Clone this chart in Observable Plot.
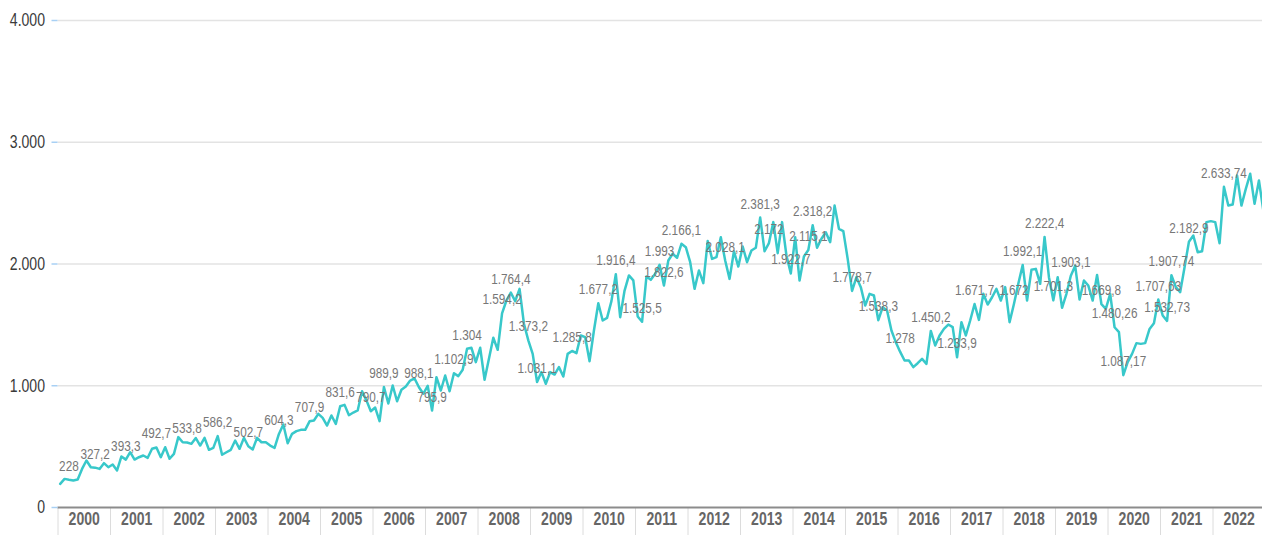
<!DOCTYPE html>
<html>
<head>
<meta charset="utf-8">
<script src="https://cdn.jsdelivr.net/npm/d3@7"></script>
<script src="https://cdn.jsdelivr.net/npm/@observablehq/plot@0.6"></script>
<style>
  html, body { margin: 0; padding: 0; background: #fff; overflow: hidden; }
</style>
</head>
<body>
<div id="chart"></div>
<script>
// Monthly values, January 2000 .. December 2022
const startYear = 2000;
const values = [
  194, 235, 228, 222, 230, 317, 386, 331, 327.2, 317, 364, 331,            // 2000
  353, 304, 419, 393.3, 454, 394, 413, 427, 408, 482, 492.7, 413,          // 2001
  495, 400, 441, 578, 536, 533.8, 523, 570, 509, 572, 474, 490,            // 2002
  586.2, 433, 454, 474, 550, 482, 572, 502.7, 476, 572, 536, 536,          // 2003
  509, 490, 604.3, 682, 528, 605, 627, 638, 638, 707.9, 715, 769,          // 2004
  736, 673, 756, 687, 831.6, 843, 758, 780, 797, 955, 880, 790.7,          // 2005
  821, 709, 989.9, 854, 1002, 873, 967, 994, 1043, 1060, 988.1, 934,       // 2006
  1000, 795.9, 1070, 961, 1084, 955, 1102.9, 1079, 1131, 1304, 1312, 1194, // 2007
  1312, 1049, 1221, 1394, 1295, 1594.2, 1700, 1764.4, 1695, 1796, 1509, 1373.2, // 2008
  1262, 1031.1, 1112, 1016, 1112, 1092, 1153, 1076, 1262, 1285.8, 1268, 1413,   // 2009
  1399, 1202, 1454, 1677.2, 1536, 1558, 1695, 1916.4, 1563, 1782, 1906, 1865,   // 2010
  1569, 1525.5, 1897, 1870, 1919, 1993, 1822.6, 2029, 2084, 2051, 2166.1, 2138, // 2011
  2015, 1796, 1947, 1843, 2188, 2042, 2056, 2220, 2028.1, 1878, 2105, 1979,     // 2012
  2144, 2015, 2111, 2133, 2381.3, 2105, 2172, 2344, 2089, 2344, 2070, 1922.7,   // 2013
  2220, 1864, 2062, 2115.1, 2318.2, 2133, 2207, 2261, 2179, 2480, 2289, 2270,   // 2014
  2042, 1778.7, 1892, 1810, 1659, 1755, 1741, 1538.3, 1645, 1618, 1454, 1358,   // 2015
  1278, 1207, 1207, 1153, 1185, 1221, 1180, 1450.2, 1331, 1413, 1467, 1503,     // 2016
  1481, 1233.9, 1522, 1413, 1536, 1671.7, 1541, 1755, 1667, 1727, 1796, 1700,   // 2017
  1810, 1522, 1672, 1837, 1992.1, 1700, 1952, 1960, 1837, 2222.4, 1892, 1701.3, // 2018
  1892, 1640, 1755, 1903.1, 1985, 1708, 1864, 1823, 1700, 1910, 1669.8, 1632,   // 2019
  1755, 1480.26, 1440, 1087.17, 1194, 1262, 1350, 1344, 1350, 1467, 1514, 1707.63, // 2020
  1577, 1532.73, 1907.74, 1810, 1769, 1974, 2182.9, 2234, 2097, 2105, 2344, 2352,  // 2021
  2344, 2171, 2633.74, 2480, 2489, 2727, 2480, 2617, 2741, 2494, 2686, 2440        // 2022
];
// Months (index into values) that carry a data label
const labelMonths = [
  2, 8, 15, 22, 29, 36, 43, 50, 57, 64, 71, 74, 82, 85, 90, 93, 101, 103, 107, 109,
  117, 123, 127, 133, 137, 138, 142, 152, 160, 162, 167, 171, 172, 181, 187, 192,
  199, 205, 209, 218, 220, 225, 227, 231, 238, 241, 243, 251, 253, 254, 258, 266
];
const years = [2000, 2001, 2002, 2003, 2004, 2005, 2006, 2007, 2008, 2009, 2010, 2011,
               2012, 2013, 2014, 2015, 2016, 2017, 2018, 2019, 2020, 2021, 2022];
const yTicks = [0, 1000, 2000, 3000, 4000];

// German number format: 2633.74 -> "2.633,74"
function fmt(v) {
  const [i, f] = String(v).split(".");
  return i.replace(/\B(?=(\d{3})+(?!\d))/g, ".") + (f ? "," + f : "");
}

const data = values.map((v, i) => ({t: startYear + (i + 0.5) / 12, v}));
const labelData = labelMonths.map(i => data[i]);
const boundaries = years.concat([years[years.length - 1] + 1]);

const font = "'Liberation Sans', Arial, sans-serif";

const chart = Plot.plot({
  width: 1262,
  height: 535,
  marginTop: 20,
  marginBottom: 28,
  marginLeft: 57.5,
  marginRight: 0,
  style: {fontFamily: font, fontSize: "14px", background: "#fff", overflow: "hidden"},
  x: {type: "linear", domain: [2000, 2023], range: [57.5, 1265]},
  y: {domain: [0, 4000]},
  marks: [
    Plot.ruleY(yTicks.filter(d => d > 0), {stroke: "#e3e3e3", strokeWidth: 1.5}),
    Plot.axisX({ticks: boundaries, tickSize: 28, tickFormat: () => "", label: null,
      stroke: "#dcdcdc", strokeWidth: 1}),
    Plot.text(years, {x: d => d + 0.5, frameAnchor: "bottom", dy: 17, text: d => String(d),
      fill: "#666", fontWeight: "bold", fontSize: 18.5}),
    Plot.ruleY([0], {stroke: "#8c8c8c", strokeWidth: 2}),
    Plot.axisY({ticks: yTicks, tickSize: 6, tickPadding: 7, tickFormat: fmt,
      stroke: "#a8d0f4", strokeWidth: 1.5, fill: "#3a3a3a", fontSize: 18.5, label: null}),
    Plot.line(data, {x: "t", y: "v", stroke: "#38C8CA", strokeWidth: 2.5}),
    Plot.text(labelData, {x: "t", y: "v", text: d => fmt(d.v), dy: -14,
      fill: "#777", fontSize: 15.5})
  ]
});
document.getElementById("chart").appendChild(chart);

// Narrow the glyphs horizontally (the reference uses a tall, condensed face)
d3.select(chart).selectAll("text").each(function () {
  const x = +(this.getAttribute("x") || 0);
  const t = this.getAttribute("transform") || "";
  this.setAttribute("transform", `${t} translate(${x},0) scale(0.76,1) translate(${-x},0)`);
});
</script>
</body>
</html>
